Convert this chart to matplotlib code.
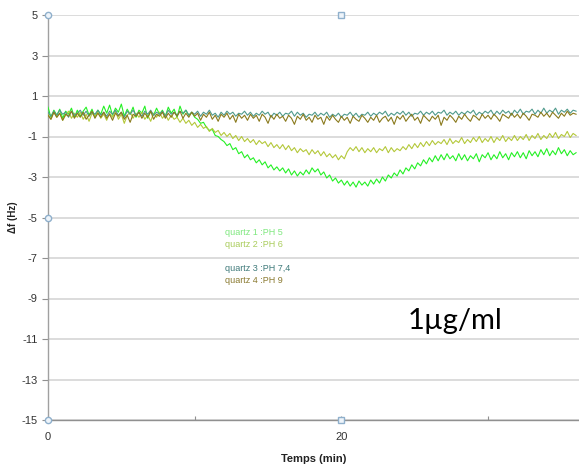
import numpy as np
import matplotlib
matplotlib.use("Agg")
import matplotlib.pyplot as plt

# frequency shift (Hz), sampled every 0.2 min from 0 to 36 min
quartz1 = [
    0.45, -0.05, 0.30, 0.05, 0.35, -0.10, 0.25, 0.10, 0.40, -0.05,
    0.30, 0.00, 0.25, 0.45, 0.05, 0.35, -0.05, 0.30, 0.10, 0.50,
    0.15, 0.55, 0.05, 0.40, 0.20, 0.60, 0.00, 0.35, 0.10, 0.45,
    -0.05, 0.30, 0.15, 0.50, -0.10, 0.25, 0.05, 0.40, 0.10, 0.30,
    0.00, 0.45, 0.15, 0.35, -0.05, 0.50, 0.10, 0.30, 0.05, 0.20,
    -0.05, -0.15, -0.35, -0.30, -0.55, -0.70, -0.65, -0.95, -1.00, -1.15,
    -1.25, -1.45, -1.35, -1.65, -1.55, -1.85, -1.75, -2.05, -1.90, -2.15,
    -2.05, -2.30, -2.15, -2.40, -2.25, -2.55, -2.40, -2.65, -2.50, -2.70,
    -2.55, -2.80, -2.60, -2.90, -2.70, -2.95, -2.75, -2.90, -2.65, -2.85,
    -2.55, -2.75, -2.60, -2.90, -2.75, -3.05, -2.90, -3.20, -3.05, -3.30,
    -3.15, -3.40, -3.20, -3.45, -3.25, -3.50, -3.20, -3.40, -3.25, -3.45,
    -3.15, -3.35, -3.10, -3.30, -3.00, -3.20, -2.90, -3.05, -2.80, -2.95,
    -2.65, -2.85, -2.55, -2.70, -2.40, -2.60, -2.30, -2.45, -2.15, -2.35,
    -2.05, -2.25, -1.95, -2.20, -1.90, -2.15, -1.85, -2.10, -1.95, -2.20,
    -1.85, -2.15, -1.90, -2.20, -1.95, -2.10, -1.85, -2.25, -1.90, -2.05,
    -1.80, -2.15, -1.90, -2.10, -1.75, -2.05, -1.85, -2.15, -1.80, -2.00,
    -1.75, -2.05, -1.80, -2.10, -1.70, -1.95, -1.75, -2.00, -1.65, -1.90,
    -1.60, -1.95, -1.70, -1.90, -1.55, -1.85, -1.65, -1.95, -1.70, -1.90,
    -1.80,
]
quartz2 = [
    0.10, -0.15, 0.20, -0.05, 0.15, -0.20, 0.05, 0.25, -0.10, 0.15,
    -0.05, 0.20, -0.15, 0.10, -0.25, 0.15, 0.00, 0.20, -0.10, 0.10,
    -0.20, 0.15, -0.05, 0.25, -0.15, 0.10, -0.35, 0.05, 0.20, -0.10,
    0.15, -0.05, 0.20, -0.15, 0.05, -0.25, 0.15, -0.05, 0.20, -0.10,
    0.10, -0.20, 0.05, -0.15, -0.05, -0.30, -0.10, -0.35, -0.20, -0.45,
    -0.30, -0.55, -0.40, -0.60, -0.50, -0.75, -0.60, -0.80, -0.70, -0.95,
    -0.80, -1.00, -0.85, -1.10, -0.95, -1.20, -1.00, -1.25, -1.10, -1.30,
    -1.15, -1.40, -1.20, -1.35, -1.25, -1.50, -1.30, -1.55, -1.40, -1.60,
    -1.40, -1.65, -1.45, -1.70, -1.55, -1.80, -1.60, -1.75, -1.65, -1.90,
    -1.65, -1.85, -1.70, -1.95, -1.75, -2.00, -1.85, -2.05, -1.90, -2.15,
    -1.95, -2.10, -1.75, -1.55, -1.70, -1.50, -1.75, -1.55, -1.80, -1.60,
    -1.75, -1.55, -1.80, -1.60, -1.70, -1.50, -1.80, -1.55, -1.75, -1.60,
    -1.70, -1.50, -1.65, -1.40, -1.60, -1.35, -1.55, -1.30, -1.50, -1.25,
    -1.45, -1.20, -1.40, -1.25, -1.35, -1.15, -1.40, -1.10, -1.35, -1.20,
    -1.30, -1.05, -1.35, -1.15, -1.30, -1.05, -1.25, -1.00, -1.30, -1.10,
    -1.25, -1.00, -1.30, -1.05, -1.20, -0.95, -1.25, -1.05, -1.20, -0.95,
    -1.20, -1.00, -1.15, -0.90, -1.20, -0.95, -1.10, -0.85, -1.15, -0.95,
    -1.10, -0.85, -1.05, -0.80, -1.10, -0.90, -1.00, -0.75, -1.05, -0.85,
    -0.95,
]
quartz3 = [
    0.20, 0.00, 0.25, 0.05, 0.30, 0.10, 0.20, -0.05, 0.25, 0.05,
    0.15, 0.30, 0.05, 0.25, 0.00, 0.20, 0.10, 0.30, 0.05, 0.20,
    0.00, 0.25, 0.10, 0.30, 0.05, 0.20, -0.05, 0.25, 0.10, 0.30,
    0.05, 0.20, 0.00, 0.25, 0.10, 0.30, 0.05, 0.20, 0.10, 0.25,
    0.00, 0.30, 0.10, 0.20, 0.05, 0.25, 0.15, 0.30, 0.05, 0.20,
    0.10, 0.25, 0.00, 0.20, 0.10, 0.30, 0.05, 0.15, -0.05, 0.20,
    0.05, 0.25, 0.10, 0.20, 0.00, 0.15, 0.10, 0.25, 0.05, 0.20,
    0.00, 0.15, 0.05, 0.25, 0.10, 0.20, -0.05, 0.15, 0.05, 0.20,
    0.00, 0.15, 0.10, 0.25, 0.00, 0.20, 0.05, 0.15, -0.05, 0.10,
    0.05, 0.20, 0.00, 0.15, 0.05, 0.20, -0.05, 0.10, 0.00, 0.15,
    -0.05, 0.10, 0.05, 0.20, 0.00, 0.15, -0.05, 0.10, 0.05, 0.20,
    0.00, 0.15, 0.05, 0.20, 0.10, 0.25, 0.00, 0.15, 0.05, 0.20,
    0.10, 0.25, 0.05, 0.20, 0.00, 0.15, 0.10, 0.25, 0.05, 0.20,
    0.10, 0.25, 0.05, 0.20, 0.15, 0.30, 0.05, 0.20, 0.10, 0.25,
    0.05, 0.20, 0.10, 0.25, 0.15, 0.30, 0.05, 0.20, 0.10, 0.25,
    0.15, 0.30, 0.05, 0.25, 0.10, 0.30, 0.15, 0.25, 0.05, 0.30,
    0.15, 0.35, 0.10, 0.25, 0.20, 0.35, 0.10, 0.30, 0.15, 0.40,
    0.15, 0.30, 0.20, 0.40, 0.10, 0.30, 0.20, 0.35, 0.15, 0.30,
    0.25,
]
quartz4 = [
    0.05, -0.15, 0.20, -0.05, 0.15, -0.20, 0.10, 0.00, 0.25, -0.10,
    0.15, -0.05, 0.20, -0.15, 0.05, 0.25, -0.10, 0.15, -0.05, 0.20,
    -0.10, 0.10, -0.20, 0.15, 0.00, 0.20, -0.15, 0.05, -0.30, 0.10,
    0.00, 0.20, -0.10, 0.15, -0.05, 0.25, -0.15, 0.10, 0.00, 0.20,
    -0.10, 0.15, -0.05, 0.20, 0.00, 0.25, -0.10, 0.15, -0.05, 0.20,
    0.00, 0.15, -0.20, 0.10, -0.05, 0.20, -0.15, 0.05, -0.25, 0.10,
    -0.05, 0.15, -0.15, 0.05, -0.30, 0.10, -0.10, 0.05, -0.20, 0.10,
    -0.10, 0.05, -0.25, 0.10, -0.05, -0.35, 0.05, -0.15, 0.10, -0.10,
    0.00, -0.25, 0.05, -0.10, -0.40, 0.00, -0.15, 0.10, -0.20, -0.05,
    -0.30, 0.05, -0.15, -0.05, -0.40, 0.00, -0.20, 0.05, -0.15, -0.30,
    0.00, -0.20, -0.05, -0.35, 0.00, -0.15, -0.25, 0.05, -0.10, -0.30,
    -0.05, -0.20, 0.05, -0.30, -0.10, 0.00, -0.25, -0.05, -0.40, 0.00,
    -0.15, 0.05, -0.25, -0.05, 0.10, -0.20, -0.05, -0.35, 0.05, -0.10,
    -0.25, 0.00, -0.15, 0.05, -0.45, -0.05, -0.20, 0.05, -0.10, -0.30,
    0.00, -0.15, 0.10, -0.10, -0.25, 0.05, -0.05, -0.20, 0.10, -0.10,
    0.05, -0.15, 0.10, -0.05, -0.25, 0.10, 0.00, -0.10, 0.15, -0.05,
    0.10, -0.10, 0.15, 0.00, -0.20, 0.10, 0.05, -0.05, 0.20, 0.00,
    0.15, -0.05, 0.20, 0.05, -0.10, 0.15, 0.00, 0.25, 0.05, 0.15,
    0.10,
]
t_step = 0.2
times = np.arange(len(quartz1)) * t_step

labels = ["quartz 1 :PH 5", "quartz 2 :PH 6", "quartz 3 :PH 7,4", "quartz 4 :PH 9"]
line_colors = ["#25f025", "#b4c83a", "#4f9a8c", "#8a7a1c"]
text_colors = ["#7fe87f", "#a9cc5a", "#3f7a7a", "#8a7a30"]
series = [quartz1, quartz2, quartz3, quartz4]

y_ticks = list(range(5, -16, -2))
x_ticks = [0, 10, 20, 30]
x_ticklabels = ["0", "", "20", ""]

plt.rcParams['font.family'] = ['Liberation Sans Narrow', 'Liberation Sans', 'DejaVu Sans']
plt.rcParams['axes.unicode_minus'] = False

fig = plt.figure(figsize=(5.79, 4.68), dpi=100)
ax = fig.add_axes([48 / 579, 1 - 420 / 468, 1 - 48 / 579, 405 / 468])

# draw order: the flat ones on top of the dropping ones
for k in [1, 0, 2, 3]:
    ax.plot(times, series[k], color=line_colors[k], lw=0.8, zorder=3 + k)

ax.set_xlim(0, 36.2)
ax.set_ylim(-15, 5)
ax.set_yticks(y_ticks)
ax.set_xticks(x_ticks)
ax.set_xticklabels(x_ticklabels)
for y in y_ticks:
    ax.axhline(y, color="#d6d6d6", lw=1.2, zorder=1)

for s in ["top", "right"]:
    ax.spines[s].set_visible(False)
ax.spines["left"].set_color("#a0a0a0")
ax.spines["bottom"].set_color("#909090")
ax.spines["left"].set_linewidth(1.0)
ax.spines["bottom"].set_linewidth(1.0)
ax.tick_params(axis="y", colors="#909090", labelcolor="#333333", length=4, labelsize=8)
ax.tick_params(axis="x", colors="#909090", labelcolor="#333333", direction="in",
               length=3, labelsize=8, pad=9)

ax.set_ylabel("Δf (Hz)", fontsize=7, fontweight="bold", color="#222222")
ax.yaxis.set_label_coords(-0.056, 0.5)
ax.set_xlabel("Temps (min)", fontsize=8, fontweight="bold", color="#222222", labelpad=8)

# axis handle markers
hx, hy = ax.get_xlim()[0], ax.get_ylim()
for yy in [hy[1], -5, hy[0]]:
    ax.plot([hx], [yy], "o", ms=4.5, mfc="#eef4fa", mec="#8fb0cc", mew=1, clip_on=False, zorder=10)
for yy in [hy[1], hy[0]]:
    ax.plot([20], [yy], "s", ms=4, mfc="#eef4fa", mec="#8fb0cc", mew=1, clip_on=False, zorder=10)

legend_y = [0.463, 0.433, 0.374, 0.344]
for lab, col, yy in zip(labels, text_colors, legend_y):
    ax.text(0.333, yy, lab, transform=ax.transAxes, fontsize=6.5, color=col, va="center")

ax.text(0.766, 0.245, "1µg/ml", transform=ax.transAxes, fontsize=21, color="black",
        ha="center", va="center", family=["Lato", "DejaVu Sans"])

fig.savefig("out.png", dpi=100)
